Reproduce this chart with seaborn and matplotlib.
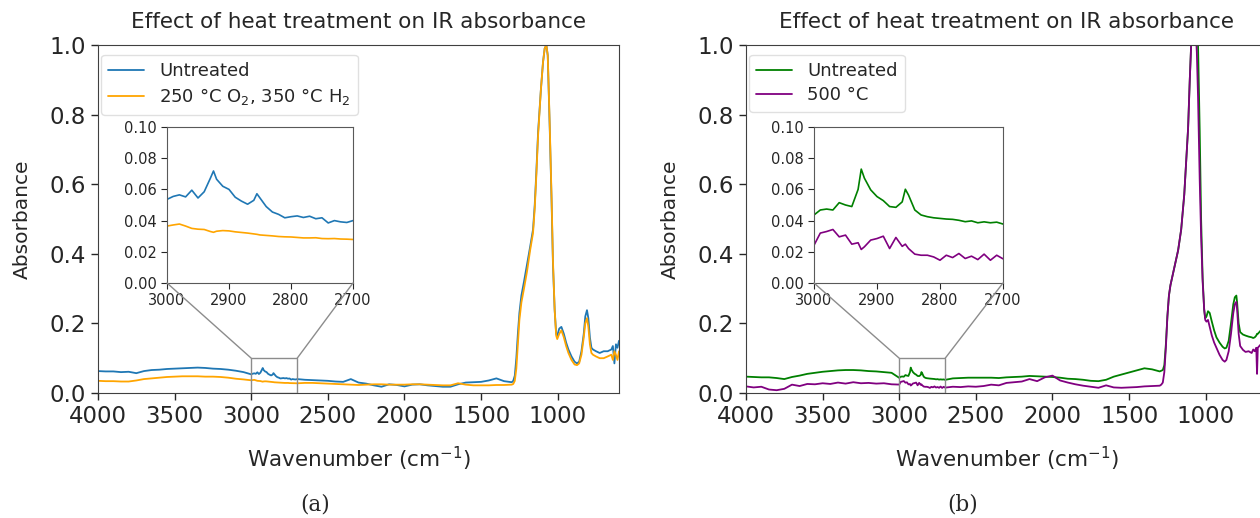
import numpy as np
import matplotlib
matplotlib.use("Agg")
import matplotlib.pyplot as plt
from matplotlib.patches import Rectangle, ConnectionPatch
import seaborn as sns

# ---------------- data ----------------
wn_head = [4000, 3950, 3900, 3850, 3800, 3750, 3700, 3650, 3600, 3550,
           3500, 3450, 3400, 3350, 3300, 3250, 3200, 3150, 3100, 3050]
wn_zoom = [3000, 2990, 2980, 2970, 2960, 2950, 2940, 2930, 2925, 2920,
           2910, 2900, 2890, 2880, 2870, 2860, 2855, 2850, 2840, 2830,
           2820, 2810, 2800, 2790, 2780, 2770, 2760, 2750, 2740, 2730,
           2720, 2710, 2700]
wn_mid = [2650, 2600, 2550, 2500, 2450, 2400, 2350, 2300, 2250, 2200,
          2150, 2100, 2050, 2000, 1950, 1900, 1850, 1800, 1750, 1700,
          1650, 1600, 1550, 1500, 1450, 1400, 1350, 1300, 1290]
wn_band_a = [1280, 1270, 1260, 1250, 1237, 1220, 1200, 1180, 1161, 1150,
             1140, 1128, 1110, 1096, 1085, 1074, 1065, 1052, 1040, 1031,
             1020, 1010, 1003, 990, 976, 960, 945, 930, 910, 890,
             874, 860, 845, 830, 820, 809, 800, 790, 780, 770,
             750, 726, 700, 674, 650, 640, 630, 620, 610, 600]
wn_band_b = [1280, 1270, 1260, 1250, 1240, 1230, 1220, 1200, 1180, 1160,
             1140, 1128, 1115, 1104, 1095, 1085, 1075, 1065, 1058, 1050,
             1039, 1030, 1020, 1010, 1003, 995, 985, 974, 960, 945,
             930, 910, 890, 876, 865, 850, 835, 820, 810, 800,
             795, 785, 775, 757, 740, 720, 700, 690, 680, 670,
             665, 660, 650, 640, 630, 620, 610, 600]

# panel (a) : untreated
blue_head = [0.063, 0.062, 0.062, 0.060, 0.061, 0.057, 0.063, 0.066, 0.067, 0.069,
             0.070, 0.071, 0.072, 0.073, 0.072, 0.070, 0.069, 0.067, 0.064, 0.060]
blue_zoom = [0.0536, 0.0555, 0.0565, 0.0552, 0.0595, 0.0545, 0.0585, 0.0672, 0.0718, 0.0665,
             0.0620, 0.0600, 0.0550, 0.0525, 0.0505, 0.0530, 0.0572, 0.0545, 0.0490, 0.0455,
             0.0440, 0.0418, 0.0425, 0.0430, 0.0420, 0.0428, 0.0412, 0.0418, 0.0385, 0.0400,
             0.0392, 0.0388, 0.0400]
blue_mid = [0.038, 0.037, 0.036, 0.035, 0.033, 0.032, 0.040, 0.030, 0.027, 0.022,
            0.018, 0.025, 0.023, 0.019, 0.024, 0.025, 0.022, 0.020, 0.018, 0.018,
            0.025, 0.030, 0.031, 0.032, 0.036, 0.042, 0.034, 0.031, 0.035]
blue_band = [0.05, 0.10, 0.17, 0.23, 0.28, 0.32, 0.37, 0.42, 0.47, 0.54,
             0.63, 0.75, 0.87, 0.95, 0.99, 1.00, 0.97, 0.76, 0.55, 0.37,
             0.24, 0.17, 0.165, 0.185, 0.19, 0.17, 0.145, 0.125, 0.105, 0.09,
             0.085, 0.09, 0.12, 0.17, 0.22, 0.238, 0.215, 0.16, 0.13, 0.125,
             0.12, 0.115, 0.12, 0.12, 0.125, 0.135, 0.085, 0.14, 0.13, 0.15]

# panel (a) : 250 C O2, 350 C H2
orange_head = [0.035, 0.034, 0.034, 0.033, 0.033, 0.036, 0.040, 0.042, 0.044, 0.046,
               0.047, 0.048, 0.048, 0.048, 0.047, 0.047, 0.046, 0.044, 0.041, 0.039]
orange_zoom = [0.0365, 0.0372, 0.0378, 0.0365, 0.0350, 0.0345, 0.0343, 0.0330, 0.0325, 0.0332,
               0.0336, 0.0334, 0.0328, 0.0324, 0.0320, 0.0315, 0.0312, 0.0308, 0.0305, 0.0302,
               0.0298, 0.0296, 0.0295, 0.0292, 0.0289, 0.0289, 0.0290, 0.0285, 0.0284, 0.0285,
               0.0282, 0.0281, 0.0279]
orange_mid = [0.029, 0.029, 0.028, 0.027, 0.026, 0.025, 0.024, 0.023, 0.024, 0.025,
              0.025, 0.024, 0.024, 0.024, 0.025, 0.025, 0.024, 0.023, 0.022, 0.022,
              0.028, 0.024, 0.022, 0.022, 0.022, 0.023, 0.023, 0.024, 0.026]
orange_band = [0.035, 0.07, 0.14, 0.21, 0.26, 0.30, 0.35, 0.41, 0.46, 0.53,
               0.62, 0.74, 0.87, 0.95, 0.99, 1.00, 0.97, 0.77, 0.56, 0.38,
               0.24, 0.165, 0.155, 0.17, 0.18, 0.16, 0.135, 0.115, 0.095, 0.082,
               0.08, 0.085, 0.11, 0.16, 0.20, 0.215, 0.19, 0.14, 0.115, 0.11,
               0.105, 0.10, 0.10, 0.105, 0.11, 0.095, 0.12, 0.11, 0.095, 0.12]

# panel (b) : untreated
green_head = [0.047, 0.046, 0.045, 0.045, 0.043, 0.040, 0.046, 0.050, 0.055, 0.058,
              0.061, 0.063, 0.065, 0.066, 0.066, 0.065, 0.063, 0.062, 0.060, 0.058]
green_zoom = [0.0436, 0.0468, 0.0474, 0.0468, 0.0515, 0.0500, 0.0490, 0.0600, 0.0730, 0.0672,
              0.0597, 0.0554, 0.0528, 0.0490, 0.0485, 0.0520, 0.0601, 0.0564, 0.0468, 0.0436,
              0.0425, 0.0418, 0.0414, 0.0410, 0.0408, 0.0402, 0.0393, 0.0398, 0.0386, 0.0392,
              0.0386, 0.0390, 0.0378]
green_mid = [0.042, 0.043, 0.044, 0.044, 0.044, 0.044, 0.043, 0.045, 0.046, 0.047,
             0.049, 0.048, 0.047, 0.046, 0.044, 0.041, 0.040, 0.038, 0.035, 0.034,
             0.038, 0.047, 0.053, 0.059, 0.065, 0.071, 0.068, 0.062, 0.064]
green_band = [0.066, 0.08, 0.14, 0.22, 0.28, 0.31, 0.33, 0.37, 0.41, 0.47,
              0.57, 0.66, 0.76, 0.90, 1.00, 1.06, 1.09, 1.08, 1.05, 1.00,
              0.75, 0.50, 0.33, 0.24, 0.215, 0.22, 0.235, 0.23, 0.205, 0.18,
              0.16, 0.145, 0.133, 0.128, 0.13, 0.15, 0.20, 0.255, 0.275, 0.28,
              0.26, 0.20, 0.175, 0.168, 0.165, 0.162, 0.16, 0.158, 0.16, 0.165,
              0.17, 0.17, 0.175, 0.18, 0.17, 0.175, 0.17, 0.18]

# panel (b) : 500 C
purple_head = [0.019, 0.016, 0.018, 0.010, 0.008, 0.012, 0.024, 0.020, 0.026, 0.025,
               0.028, 0.026, 0.030, 0.027, 0.031, 0.028, 0.029, 0.027, 0.028, 0.025]
purple_zoom = [0.0242, 0.0320, 0.0330, 0.0343, 0.0296, 0.0307, 0.0249, 0.0258, 0.0215, 0.0232,
               0.0275, 0.0285, 0.0300, 0.0221, 0.0292, 0.0235, 0.0249, 0.0221, 0.0185, 0.0178,
               0.0178, 0.0167, 0.0146, 0.0178, 0.0163, 0.0189, 0.0157, 0.0172, 0.0150, 0.0185,
               0.0146, 0.0178, 0.0155]
purple_mid = [0.018, 0.017, 0.019, 0.018, 0.020, 0.024, 0.022, 0.029, 0.031, 0.033,
              0.040, 0.034, 0.045, 0.050, 0.036, 0.030, 0.025, 0.021, 0.018, 0.015,
              0.022, 0.016, 0.015, 0.016, 0.017, 0.019, 0.020, 0.021, 0.024]
purple_band = [0.03, 0.06, 0.13, 0.22, 0.28, 0.31, 0.33, 0.37, 0.41, 0.47,
               0.57, 0.66, 0.76, 0.90, 1.00, 1.06, 1.08, 1.04, 0.98, 0.85,
               0.61, 0.45, 0.32, 0.24, 0.21, 0.205, 0.21, 0.19, 0.165, 0.145,
               0.13, 0.11, 0.095, 0.09, 0.095, 0.12, 0.17, 0.23, 0.255, 0.262,
               0.24, 0.17, 0.135, 0.124, 0.118, 0.12, 0.115, 0.125, 0.12, 0.13,
               0.055, 0.13, 0.135, 0.14, 0.12, 0.13, 0.12, 0.13]

labels_a = ["Untreated", "250 °C O$_2$, 350 °C H$_2$"]
labels_b = ["Untreated", "500 °C"]
colors_a = ["#1f77b4", "orange"]
colors_b = ["green", "purple"]
title = "Effect of heat treatment on IR absorbance"
xlabel = "Wavenumber (cm$^{-1}$)"
ylabel = "Absorbance"
main_xticks = [4000, 3500, 3000, 2500, 2000, 1500, 1000]
main_yticks = [0.0, 0.2, 0.4, 0.6, 0.8, 1.0]
zoom_xticks = [3000, 2900, 2800, 2700]
zoom_yticks = [0.00, 0.02, 0.04, 0.06, 0.08, 0.10]

wn_a = np.array(wn_head + wn_zoom + wn_mid + wn_band_a)
wn_b = np.array(wn_head + wn_zoom + wn_mid + wn_band_b)
series_a = [np.array(blue_head + blue_zoom + blue_mid + blue_band),
            np.array(orange_head + orange_zoom + orange_mid + orange_band)]
series_b = [np.array(green_head + green_zoom + green_mid + green_band),
            np.array(purple_head + purple_zoom + purple_mid + purple_band)]

# ---------------- style ----------------
sns.set_style("ticks")
plt.rcParams["font.family"] = ["DejaVu Sans"]
plt.rcParams["axes.edgecolor"] = "0.25"
plt.rcParams["xtick.color"] = "0.15"
plt.rcParams["ytick.color"] = "0.15"

W, H = 1260, 518
fig = plt.figure(figsize=(W / 100, H / 100), dpi=100)


def px_axes(x0, y0, x1, y1):
    return fig.add_axes([x0 / W, 1 - y1 / H, (x1 - x0) / W, (y1 - y0) / H])


def make_panel(ax_box, ins_box, wn, series, colors, labels, cap, cap_x):
    ax = px_axes(*ax_box)
    for y, c, lab in zip(series, colors, labels):
        sns.lineplot(x=wn, y=y, ax=ax, color=c, label=lab, lw=1.3,
                     estimator=None, sort=False)
    ax.set_xlim(4000, 600)
    ax.set_ylim(0, 1)
    ax.set_xticks(main_xticks)
    ax.set_yticks(main_yticks)
    ax.set_yticklabels([f"{v:.1f}" for v in main_yticks])
    ax.tick_params(labelsize=16.5, length=5, width=1)
    ax.set_xlabel(xlabel, fontsize=15.5, labelpad=12)
    ax.set_ylabel(ylabel, fontsize=14.5, labelpad=13)
    ax.set_title(title, fontsize=15.5, pad=12)
    leg = ax.legend(loc="upper left", fontsize=13, frameon=True,
                    bbox_to_anchor=(0.006, 0.972), borderaxespad=0.0,
                    handlelength=2.0, labelspacing=0.35)
    leg.get_frame().set_edgecolor("0.85")

    ins = px_axes(*ins_box)
    for y, c in zip(series, colors):
        sns.lineplot(x=wn, y=y, ax=ins, color=c, lw=1.2, legend=False,
                     estimator=None, sort=False)
    ins.set_xlim(3000, 2700)
    ins.set_ylim(0, 0.1)
    ins.set_xticks(zoom_xticks)
    ins.set_yticks(zoom_yticks)
    ins.set_yticklabels([f"{v:.2f}" for v in zoom_yticks])
    ins.tick_params(labelsize=10.5, length=4)
    ins.set_xlabel("")
    ins.set_ylabel("")
    for sp in ins.spines.values():
        sp.set_edgecolor("0.35")

    ax.add_patch(Rectangle((3000, 0), -300, 0.1, fill=False,
                           edgecolor="0.55", lw=1, zorder=5))
    for xv in (3000, 2700):
        con = ConnectionPatch(xyA=(xv, 0), coordsA=ins.transData,
                              xyB=(xv, 0.1), coordsB=ax.transData,
                              color="0.55", lw=1)
        fig.add_artist(con)

    fig.text(cap_x / W, 1 - 505 / H, cap, family="DejaVu Serif",
             fontsize=15.5, ha="center", va="center")
    return ax, ins


make_panel((98, 45, 619, 393), (167, 127, 353, 283), wn_a, series_a,
           colors_a, labels_a, "(a)", 315)
make_panel((746, 45, 1267, 393), (814, 127, 1003, 283), wn_b, series_b,
           colors_b, labels_b, "(b)", 963)

fig.savefig("out.png", dpi=100)
